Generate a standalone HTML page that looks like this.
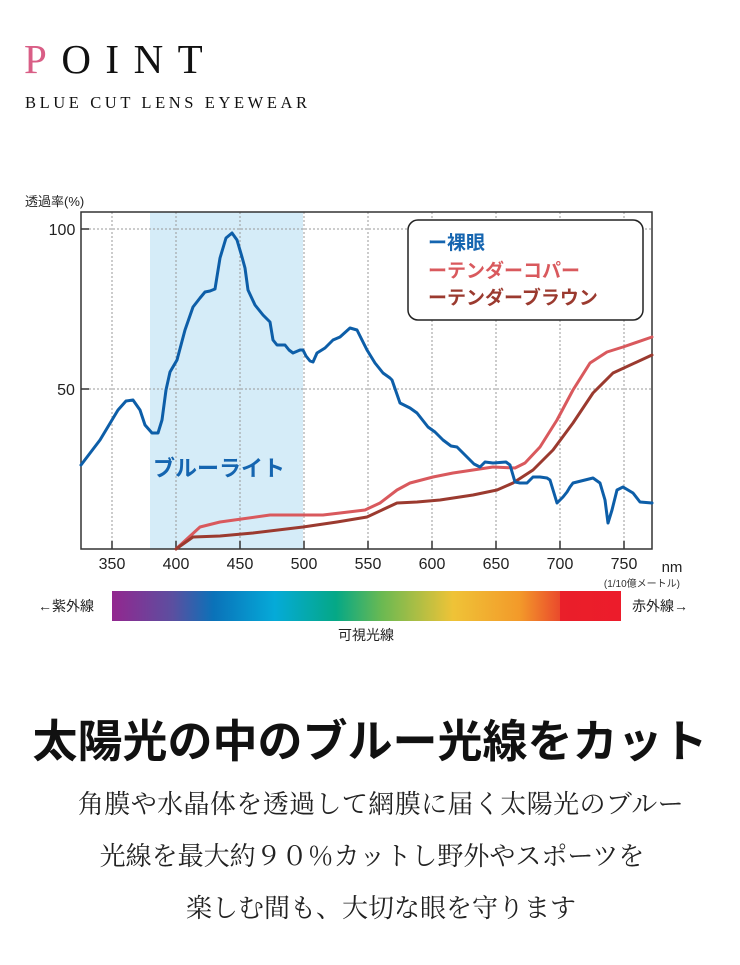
<!DOCTYPE html>
<html><head><meta charset="utf-8"><style>
body{margin:0;background:#fff;width:740px;height:960px;overflow:hidden}
</style></head><body>
<svg width="740" height="960" xmlns="http://www.w3.org/2000/svg">
<defs>
<linearGradient id="sp" x1="0" x2="1">
<stop offset="0" stop-color="#93278f"/><stop offset="0.12" stop-color="#5b4fa0"/><stop offset="0.2" stop-color="#0a72b9"/><stop offset="0.32" stop-color="#05aad8"/><stop offset="0.44" stop-color="#05a886"/><stop offset="0.53" stop-color="#6ab952"/><stop offset="0.67" stop-color="#efc337"/><stop offset="0.8" stop-color="#f39a2a"/><stop offset="0.88" stop-color="#ea4a2c"/><stop offset="0.8781" stop-color="#ea1f2a"/><stop offset="1" stop-color="#ec1c2b"/>
</linearGradient>
</defs>
<text x="24" y="73" font-family="Liberation Serif, serif" font-size="41" letter-spacing="14.5" fill="#111"><tspan fill="#d95e86">P</tspan>OINT</text>
<text x="25" y="108" font-family="Liberation Serif, serif" font-size="16.5" letter-spacing="3.6" fill="#111">BLUE CUT LENS EYEWEAR</text>

<text x="25" y="206" font-family="Liberation Sans, Noto Sans CJK JP, sans-serif" font-size="13" fill="#222">透過率(%)</text>
<rect x="150" y="212" width="153" height="337" fill="#d5ecf8"/>
<g stroke="#999" stroke-width="1" stroke-dasharray="2,2">
<line x1="112" y1="212" x2="112" y2="549"/><line x1="176" y1="212" x2="176" y2="549"/><line x1="240" y1="212" x2="240" y2="549"/><line x1="304" y1="212" x2="304" y2="549"/><line x1="368" y1="212" x2="368" y2="549"/><line x1="432" y1="212" x2="432" y2="549"/><line x1="496" y1="212" x2="496" y2="549"/><line x1="560" y1="212" x2="560" y2="549"/><line x1="624" y1="212" x2="624" y2="549"/>
<line x1="81" y1="229" x2="652" y2="229"/><line x1="81" y1="389" x2="652" y2="389"/>
</g>
<rect x="81" y="212" width="571" height="337" fill="none" stroke="#333" stroke-width="1.5"/>
<g stroke="#333" stroke-width="1.5">
<line x1="112" y1="549" x2="112" y2="541"/><line x1="176" y1="549" x2="176" y2="541"/><line x1="240" y1="549" x2="240" y2="541"/><line x1="304" y1="549" x2="304" y2="541"/><line x1="368" y1="549" x2="368" y2="541"/><line x1="432" y1="549" x2="432" y2="541"/><line x1="496" y1="549" x2="496" y2="541"/><line x1="560" y1="549" x2="560" y2="541"/><line x1="624" y1="549" x2="624" y2="541"/>
<line x1="81" y1="229" x2="89" y2="229"/><line x1="81" y1="389" x2="89" y2="389"/>
</g>
<g font-family="Liberation Sans, sans-serif" font-size="16" fill="#222" text-anchor="middle">
<text x="112" y="569">350</text><text x="176" y="569">400</text><text x="240" y="569">450</text><text x="304" y="569">500</text><text x="368" y="569">550</text><text x="432" y="569">600</text><text x="496" y="569">650</text><text x="560" y="569">700</text><text x="624" y="569">750</text>
<text x="672" y="572" font-size="15">nm</text>
<text x="62" y="235">100</text><text x="66" y="395">50</text>
</g>
<text x="680" y="587" text-anchor="end" font-family="Liberation Sans, Noto Sans CJK JP, sans-serif" font-size="10" fill="#333">(1/10億メートル)</text>

<text x="153" y="476" font-family="Liberation Sans, Noto Sans CJK JP, sans-serif" font-size="22" font-weight="bold" fill="#1565b0">ブルーライト</text>

<g fill="none" stroke-width="3" stroke-linejoin="round" stroke-linecap="round">
<polyline stroke="#d9595d" points="176,549 200,527 220,522 270,515 303,515 323,515 340,513 365,510 380,503 397,490 410,483 433,477 453,473 473,470 493,467 515,468 525,463 540,447 557,420 573,390 590,363 607,352 623,347 652,337"/>
<polyline stroke="#9b3a2f" points="176,549 193,537 220,536 253,533 303,527 337,522 367,517 397,503 417,502 440,500 473,495 497,490 513,483 533,470 553,450 573,423 593,393 613,373 652,355"/>
<polyline stroke="#0d5ea8" points="81,465 100,440 118,410 126,401 133,400 140,410 145,425 152,433 158,433 162,420 166,390 170,372 177,360 185,330 193,307 200,298 205,292 210,291 215,289 220,258 226,238 232,233 237,240 242,257 245,268 248,290 255,305 263,315 270,322 273,340 277,345 285,345 289,350 293,353 300,350 303,350 306,356 310,361 313,362 317,353 325,348 333,340 340,337 350,328 357,330 362,340 367,350 375,363 383,373 390,378 392,380 400,403 410,408 417,413 428,427 435,432 443,440 451,446 457,447 463,453 468,458 474,464 480,467 485,462 493,463 506,462 510,465 515,482 520,483 527,483 533,477 540,477 547,478 550,480 557,503 560,500 563,497 567,492 570,487 573,483 593,478 600,483 605,500 608,523 612,510 617,490 623,487 633,493 640,502 652,503"/>
</g>

<rect x="408" y="220" width="235" height="100" rx="10" fill="#fff" stroke="#222" stroke-width="1.5"/>
<g font-family="Liberation Sans, Noto Sans CJK JP, sans-serif" font-size="19" font-weight="bold">
<text x="428" y="249" fill="#1565b0">ー裸眼</text>
<text x="428" y="277" fill="#d9595d">ーテンダーコパー</text>
<text x="428" y="304" fill="#9b3a2f">ーテンダーブラウン</text>
</g>

<rect x="112" y="591" width="509" height="30" fill="url(#sp)"/>
<g font-family="Liberation Sans, Noto Sans CJK JP, sans-serif" font-size="14" fill="#222">
<text x="38" y="611">←紫外線</text>
<text x="632" y="611">赤外線→</text>
<text x="366" y="640" text-anchor="middle">可視光線</text>
</g>

<text x="370" y="757" text-anchor="middle" font-family="Liberation Sans, Noto Sans CJK JP, sans-serif" font-size="45" font-weight="bold" fill="#111">太陽光の中のブルー光線をカット</text>
<g font-family="Liberation Serif, Noto Serif CJK SC, serif" font-size="26" fill="#222" text-anchor="middle">
<text x="381" y="813" letter-spacing="0.4">角膜や水晶体を透過して網膜に届く太陽光のブルー</text>
<text x="372" y="865">光線を最大約９０％カットし野外やスポーツを</text>
<text x="381" y="917">楽しむ間も、大切な眼を守ります</text>
</g>
</svg>
</body></html>
